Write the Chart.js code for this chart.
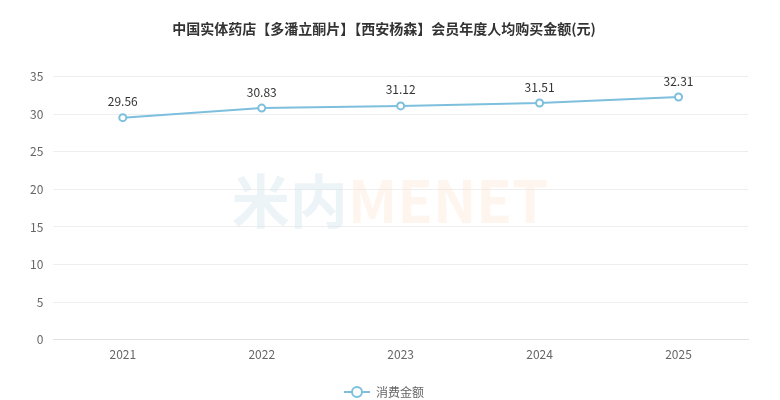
<!DOCTYPE html>
<html><head><meta charset="utf-8">
<script src="https://cdn.jsdelivr.net/npm/chart.js@4.4.0/dist/chart.umd.min.js"></script>
<style>html,body{margin:0;padding:0;background:#fff;}#wrap{width:780px;height:400px;}</style>
</head><body><div id="wrap"><canvas id="c" width="780" height="400"></canvas></div>
<script>
const categories = ["2021","2022","2023","2024","2025"];
const values = [29.56, 30.83, 31.12, 31.51, 32.31];
const yTicks = [0,5,10,15,20,25,30,35];
const seriesName = "消费金额";
const titleText = "中国实体药店【多潘立酮片】【西安杨森】会员年度人均购买金额(元)";
const FONT = "'Microsoft YaHei','Noto Sans CJK SC','Noto Sans',sans-serif";
const LINE = '#7dbfdd';

const legendIcon = document.createElement('canvas');
legendIcon.width = 26; legendIcon.height = 14;
(function(){
  const g = legendIcon.getContext('2d');
  g.strokeStyle = LINE; g.lineWidth = 2;
  g.beginPath(); g.moveTo(0,7); g.lineTo(26,7); g.stroke();
  g.beginPath(); g.arc(13,7,5,0,Math.PI*2); g.fillStyle='#fff'; g.fill(); g.stroke();
})();

const watermark = {
  id:'wm',
  beforeDatasetsDraw(chart){
    const {ctx} = chart;
    ctx.save();
    ctx.font = "bold 58px " + FONT;
    ctx.textBaseline = 'middle';
    const cx = 390, cy = 201;
    const t1 = "米内", t2 = "MENET";
    const w1 = ctx.measureText(t1).width, w2 = ctx.measureText(t2).width;
    const x0 = cx - (w1+w2)/2;
    ctx.fillStyle = 'rgba(215,230,238,0.45)';
    ctx.fillText(t1, x0, cy);
    ctx.fillStyle = 'rgba(253,225,205,0.35)';
    ctx.fillText(t2, x0+w1, cy);
    ctx.restore();
  }
};
const labels = {
  id:'lbl',
  afterDatasetsDraw(chart){
    const {ctx} = chart;
    const meta = chart.getDatasetMeta(0);
    ctx.save();
    ctx.font = "12px " + FONT;
    ctx.fillStyle = '#333';
    ctx.textAlign = 'center';
    ctx.textBaseline = 'middle';
    meta.data.forEach((p,i)=>{ ctx.fillText(values[i].toFixed(2), p.x, p.y-16); });
    ctx.restore();
  }
};

new Chart(document.getElementById('c'), {
  type:'line',
  data:{ labels: categories, datasets:[{
    label: seriesName, data: values,
    borderColor:LINE, backgroundColor:'#fff', borderWidth:2,
    pointRadius:3.5, pointBorderWidth:2, pointBorderColor:LINE, pointBackgroundColor:'#fff',
    tension:0
  }]},
  options:{
    responsive:false, animation:false, devicePixelRatio:1,
    layout:{padding:{left:20,right:32,top:4,bottom:-8}},
    plugins:{
      title:{display:true, text:titleText, color:'#333', font:{family:FONT,size:14,weight:'bold'}, padding:{top:16,bottom:40}},
      legend:{position:'bottom', labels:{usePointStyle:true, pointStyleWidth:26, color:'#666', font:{family:FONT,size:12}, padding:3,
        generateLabels(chart){
          return [{text:seriesName, fillStyle:'#fff', strokeStyle:LINE, lineWidth:2, pointStyle:legendIcon, datasetIndex:0, fontColor:'#666'}];
        }}},
      tooltip:{enabled:false}
    },
    scales:{
      x:{ offset:true, grid:{display:false}, border:{color:'#e0e0e0'},
          afterFit(s){ s.height += 21; },
          ticks:{color:'#666', font:{family:FONT,size:12}, padding:0} },
      y:{ min:0, max:35, afterBuildTicks(s){ s.ticks = yTicks.map(v=>({value:v})); },
          grid:{color:'#eeeeee', drawTicks:false}, border:{display:false},
          ticks:{color:'#666', font:{family:FONT,size:12}, padding:10} }
    }
  },
  plugins:[watermark, labels]
});
</script></body></html>
